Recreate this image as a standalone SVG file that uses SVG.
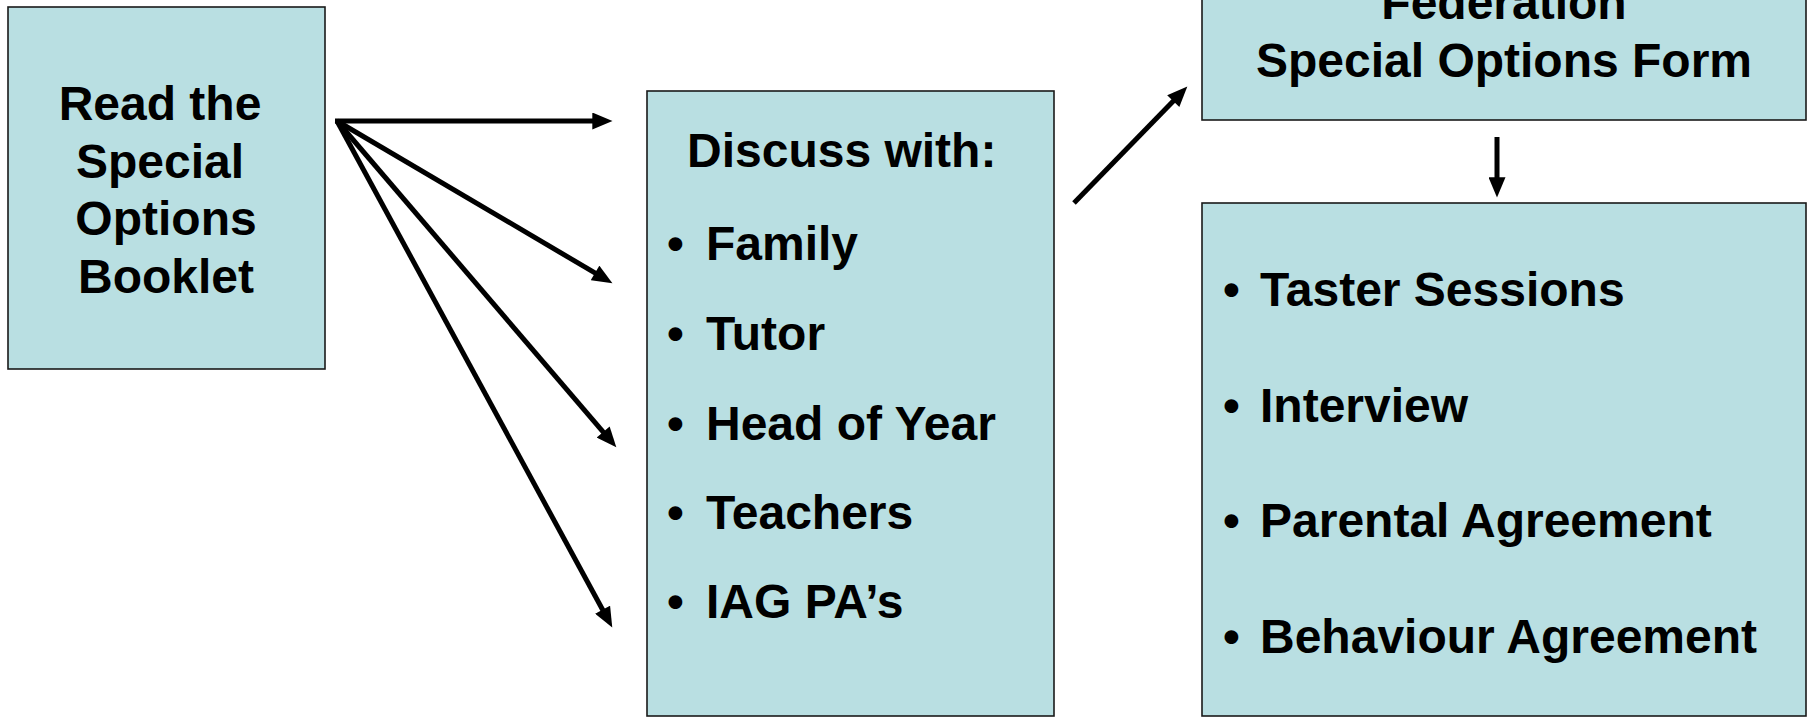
<svg xmlns="http://www.w3.org/2000/svg" width="1812" height="717" viewBox="0 0 1812 717">
<style>
.box{fill:#B9DFE2;stroke:#1a1a1a;stroke-width:1.6}
.t{font-family:"Liberation Sans",Arial,sans-serif;font-weight:bold;font-size:48px;fill:#000}
.c{text-anchor:middle}
.conn{stroke:#000;stroke-width:5;fill:none;marker-end:url(#ah)}
</style>
<defs>
<marker id="ah" markerUnits="userSpaceOnUse" markerWidth="21" markerHeight="17" refX="11" refY="8" orient="auto" viewBox="0 0 19 16">
<path d="M0,0 L19,8 L0,16 z" fill="#000"/>
</marker>
</defs>
<rect width="1812" height="717" fill="#fff"/>
<g id="node-booklet">
<rect class="box" x="8" y="7" width="317" height="362"/>
<text class="t c" x="160" y="120">Read the</text>
<text class="t c" x="160" y="178">Special</text>
<text class="t c" x="166" y="235">Options</text>
<text class="t c" x="166" y="293">Booklet</text>
</g>
<g id="node-discuss">
<rect class="box" x="647" y="91" width="407" height="625"/>
<text class="t" x="687" y="167">Discuss with:</text>
<text class="t" x="667" y="260">•</text><text class="t" x="706" y="260">Family</text>
<text class="t" x="667" y="350">•</text><text class="t" x="706" y="350">Tutor</text>
<text class="t" x="667" y="440">•</text><text class="t" x="706" y="440">Head of Year</text>
<text class="t" x="667" y="529">•</text><text class="t" x="706" y="529">Teachers</text>
<text class="t" x="667" y="618">•</text><text class="t" x="706" y="618">IAG PA’s</text>
</g>
<g id="node-form">
<rect class="box" x="1202" y="-10" width="604" height="130"/>
<text class="t c" x="1504" y="19">Federation</text>
<text class="t c" x="1504" y="77">Special Options Form</text>
</g>
<g id="node-steps">
<rect class="box" x="1202" y="203" width="604" height="513"/>
<text class="t" x="1223" y="306">•</text><text class="t" x="1260" y="306">Taster Sessions</text>
<text class="t" x="1223" y="422">•</text><text class="t" x="1260" y="422">Interview</text>
<text class="t" x="1223" y="537">•</text><text class="t" x="1260" y="537">Parental Agreement</text>
<text class="t" x="1223" y="653">•</text><text class="t" x="1260" y="653">Behaviour Agreement</text>
</g>
<g id="connectors">
<line class="conn" x1="335" y1="121" x2="604" y2="121"/>
<line class="conn" x1="337" y1="121" x2="605.1" y2="278.9"/>
<line class="conn" x1="337" y1="121" x2="610.8" y2="440.9"/>
<line class="conn" x1="337" y1="121" x2="608.2" y2="620"/>
<line class="conn" x1="1074" y1="203" x2="1181.4" y2="92.7"/>
<line class="conn" x1="1497" y1="137" x2="1497" y2="189"/>
</g>
</svg>
